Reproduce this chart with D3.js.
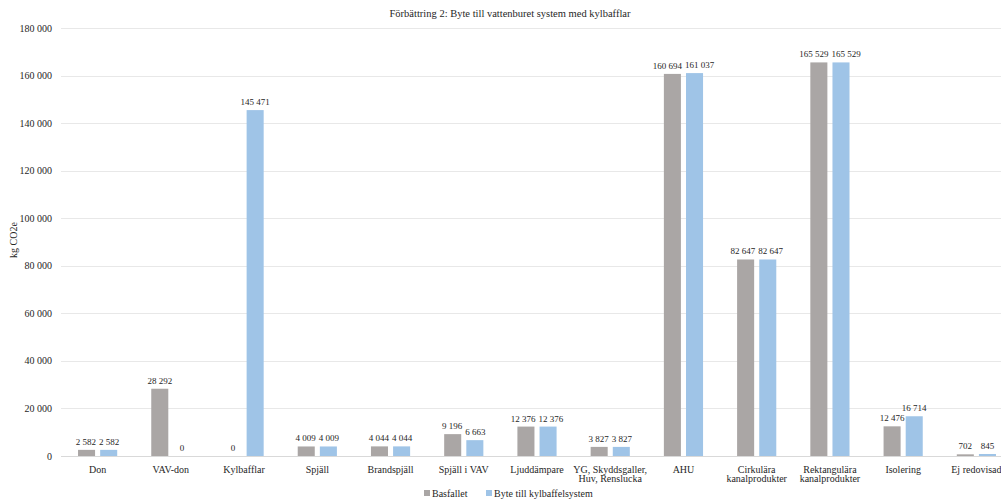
<!DOCTYPE html>
<html>
<head>
<meta charset="utf-8">
<script src="https://cdn.jsdelivr.net/npm/d3@7"></script>
<style>
  html, body { margin: 0; padding: 0; background: #ffffff; }
  svg { display: block; }
</style>
</head>
<body>
<svg id="chart" width="1001" height="501"></svg>
<script>
// Product categories (line breaks within a label are separated with "\n")
const categories = [
  "Don", "VAV-don", "Kylbafflar", "Spjäll", "Brandspjäll", "Spjäll i VAV",
  "Ljuddämpare", "YG, Skyddsgaller,\nHuv, Renslucka", "AHU",
  "Cirkulära\nkanalprodukter", "Rektangulära\nkanalprodukter", "Isolering", "Ej redovisad"
];
const seriesNames = ["Basfallet", "Byte till kylbaffelsystem"];
const basfallet = [2582, 28292, 0, 4009, 4044, 9196, 12376, 3827, 160694, 82647, 165529, 12476, 702];
const kylbaffel = [2582, 0, 145471, 4009, 4044, 6663, 12376, 3827, 161037, 82647, 165529, 16714, 845];
const yTicks = [0, 20000, 40000, 60000, 80000, 100000, 120000, 140000, 160000, 180000];
const colors = ["#aaa6a5", "#9fc4e7"];

const FONT = "'Liberation Serif', 'Times New Roman', Times, serif";

const svg = d3.select("#chart")
  .attr("font-family", FONT)
  .style("font-family", FONT);

const margin = { left: 61, right: -12, top: 28, bottom: 45 };
const W = 1001, H = 501;

const x = d3.scaleBand()
  .domain(categories)
  .range([margin.left, W - margin.right])
  .paddingInner(0.465)
  .paddingOuter(0.2325);

const x1 = d3.scaleBand()
  .domain(seriesNames)
  .range([0, x.bandwidth()])
  .paddingInner(0.23);

const y = d3.scaleLinear().domain([0, 180000]).range([H - margin.bottom, margin.top]);

const fmt = v => d3.format(",")(v).replace(/,/g, " ");

function txt(sel, size) {
  return sel.attr("font-family", FONT).style("font-family", FONT)
    .style("font-size", size + "px").attr("fill", "#262626");
}

// Gridlines
svg.append("g")
  .selectAll("line")
  .data(yTicks)
  .join("line")
  .attr("x1", margin.left)
  .attr("x2", W)
  .attr("y1", d => Math.round(y(d)) + 0.5)
  .attr("y2", d => Math.round(y(d)) + 0.5)
  .attr("stroke", d => d === 0 ? "#d9d9d9" : "#e8e8e8")
  .attr("stroke-width", 1);

// Y axis tick labels
txt(svg.append("g")
  .selectAll("text")
  .data(yTicks)
  .join("text")
  .attr("x", 52)
  .attr("y", d => y(d))
  .attr("dy", "0.35em")
  .attr("text-anchor", "end")
  .text(d => fmt(d)), 10);

// Y axis title
txt(svg.append("text")
  .attr("transform", `translate(17,${240}) rotate(-90)`)
  .attr("text-anchor", "middle")
  .text("kg CO2e"), 10);

// Title
txt(svg.append("text")
  .attr("x", 510)
  .attr("y", 17)
  .attr("text-anchor", "middle")
  .text("Förbättring 2: Byte till vattenburet system med kylbafflar"), 10.5);

// Bars
const rows = categories.map((c, i) => ({
  cat: c,
  vals: [
    { s: seriesNames[0], v: basfallet[i], k: 0 },
    { s: seriesNames[1], v: kylbaffel[i], k: 1 }
  ]
}));

const groups = svg.append("g")
  .selectAll("g")
  .data(rows)
  .join("g")
  .attr("transform", d => `translate(${x(d.cat)},0)`);

groups.selectAll("rect")
  .data(d => d.vals)
  .join("rect")
  .attr("x", d => x1(d.s))
  .attr("width", x1.bandwidth())
  .attr("y", d => y(d.v))
  .attr("height", d => Math.max(y(0) - y(d.v), d.v > 0 ? 1.5 : 0))
  .attr("fill", d => colors[d.k]);

// Value labels, centred over their bar
const valLabels = txt(groups.selectAll("text.val")
  .data(d => d.vals)
  .join("text")
  .attr("class", "val")
  .attr("x", d => x1(d.s) + x1.bandwidth() / 2)
  .attr("y", d => y(d.v) - 5)
  .attr("text-anchor", "middle")
  .text(d => fmt(d.v)), 9);

// Nudge paired labels apart when they sit at the same height and would collide
groups.each(function () {
  const labels = d3.select(this).selectAll("text.val").nodes();
  const [a, b] = labels;
  const ya = +a.getAttribute("y"), yb = +b.getAttribute("y");
  if (Math.abs(ya - yb) > 10) return;
  const wa = a.getComputedTextLength(), wb = b.getComputedTextLength();
  const xa = +a.getAttribute("x"), xb = +b.getAttribute("x");
  const gap = 3;
  const overlap = (xa + wa / 2) - (xb - wb / 2) + gap;
  if (overlap > 0) {
    a.setAttribute("x", xa - overlap / 2);
    b.setAttribute("x", xb + overlap / 2);
  }
});

// Category labels
const catLabels = txt(svg.append("g")
  .selectAll("text")
  .data(categories)
  .join("text")
  .attr("x", d => x(d) + x.bandwidth() / 2)
  .attr("y", H - margin.bottom + 16.5)
  .attr("text-anchor", "middle"), 10);

catLabels.selectAll("tspan")
  .data(d => d.split("\n"))
  .join("tspan")
  .attr("x", function () { return this.parentNode.getAttribute("x"); })
  .attr("dy", (d, i) => i === 0 ? 0 : 9.6)
  .text(d => d);

// Legend
const legend = svg.append("g").attr("transform", "translate(424,497)");
const legendItems = [
  { name: seriesNames[0], color: colors[0], x: 0 },
  { name: seriesNames[1], color: colors[1], x: 62 }
];
const li = legend.selectAll("g").data(legendItems).join("g")
  .attr("transform", d => `translate(${d.x},0)`);
li.append("rect")
  .attr("x", 0).attr("y", -7)
  .attr("width", 6).attr("height", 6)
  .attr("fill", d => d.color);
txt(li.append("text")
  .attr("x", 8).attr("y", 0)
  .text(d => d.name), 10);
</script>
</body>
</html>
